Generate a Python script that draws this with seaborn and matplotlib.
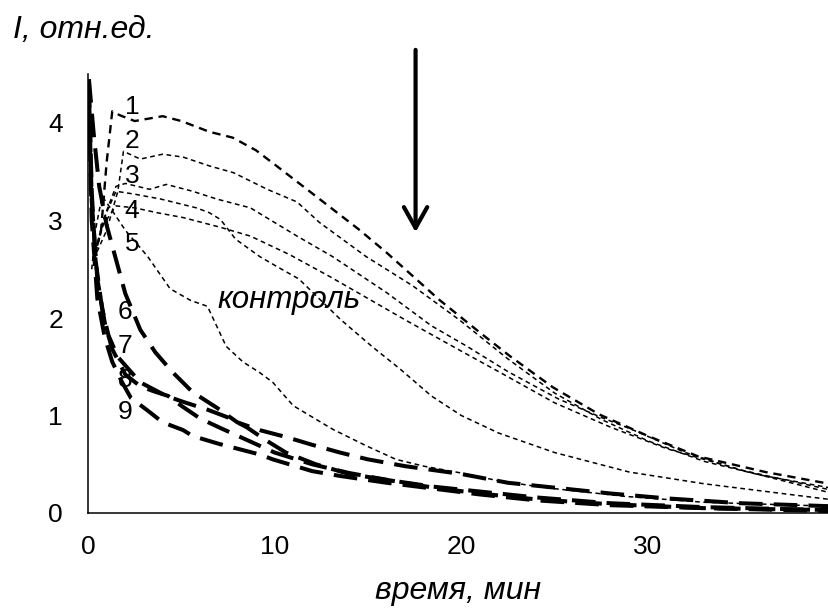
import matplotlib
matplotlib.use("Agg")
import matplotlib.pyplot as plt
import seaborn as sns
import numpy as np

# ---------------- data ----------------
c1_x = [0.3, 0.7, 1.0, 1.3, 1.7, 2.5, 4.0, 5.0, 6.5, 7.75, 9.0, 10.1, 12.0, 14.5, 16.0, 17.4, 18.8, 21.0, 22.6, 24.9, 27.4, 30.0, 32.7, 36.3, 39.7]
c1_y = [2.6, 2.9, 3.6, 4.12, 4.08, 4.02, 4.07, 4.02, 3.91, 3.85, 3.72, 3.56, 3.28, 2.91, 2.67, 2.43, 2.19, 1.85, 1.61, 1.29, 1.01, 0.79, 0.58, 0.42, 0.30]

c2_x = [0.3, 1.0, 1.6, 1.9, 2.8, 4.0, 5.1, 6.5, 7.8, 9.6, 11.2, 12.4, 14.9, 17.4, 19.9, 22.5, 25.0, 27.5, 30.0, 33.0, 36.0, 39.7]
c2_y = [2.6, 2.9, 3.3, 3.71, 3.63, 3.68, 3.65, 3.56, 3.49, 3.32, 3.19, 2.98, 2.63, 2.33, 1.98, 1.58, 1.23, 0.96, 0.74, 0.53, 0.39, 0.26]

c3_x = [0.3, 1.0, 1.5, 2.0, 3.3, 4.2, 5.6, 6.9, 8.7, 11.2, 13.1, 16.0, 18.4, 20.3, 22.5, 25.2, 27.5, 29.1, 32.0, 35.0, 39.7]
c3_y = [2.6, 3.1, 3.35, 3.38, 3.32, 3.37, 3.30, 3.22, 3.13, 2.84, 2.63, 2.26, 1.92, 1.71, 1.45, 1.17, 0.98, 0.86, 0.62, 0.44, 0.24]

c4_x = [0.3, 0.8, 1.5, 2.5, 3.7, 5.1, 6.5, 7.1, 8.7, 10.8, 13.0, 15.0, 17.0, 20.0, 22.0, 25.0, 28.0, 31.0, 35.0, 39.7]
c4_y = [2.6, 2.95, 3.15, 3.13, 3.08, 3.03, 2.96, 2.93, 2.84, 2.65, 2.42, 2.20, 1.98, 1.66, 1.45, 1.13, 0.88, 0.66, 0.44, 0.21]

ctrl_x = [0.3, 0.8, 1.5, 2.5, 3.9, 5.8, 6.5, 7.1, 7.9, 9.2, 10.1, 11.3, 13.5, 15.2, 16.7, 18.4, 20.0, 22.0, 25.0, 29.0, 33.0, 39.7]
ctrl_y = [2.6, 3.0, 3.3, 3.27, 3.22, 3.13, 3.08, 3.01, 2.81, 2.63, 2.53, 2.40, 1.99, 1.71, 1.48, 1.20, 1.00, 0.82, 0.62, 0.42, 0.30, 0.14]

c5_x = [0.2, 0.4, 0.75, 1.3, 2.0, 3.2, 4.4, 5.5, 6.4, 7.4, 8.3, 9.2, 9.9, 11.0, 13.1, 14.9, 16.5, 18.0, 20.0, 22.0, 24.5, 28.8, 33.0, 39.7]
c5_y = [2.5, 2.9, 3.25, 3.1, 2.9, 2.63, 2.30, 2.18, 2.12, 1.71, 1.55, 1.44, 1.34, 1.10, 0.86, 0.69, 0.55, 0.48, 0.41, 0.33, 0.26, 0.17, 0.11, 0.07]

c6_x = [0.05, 0.3, 0.6, 1.0, 1.5, 2.0, 2.8, 3.6, 4.5, 5.6, 6.9, 8.0, 9.2, 10.6, 12.0, 13.5, 15.0, 17.0, 20.0, 22.5, 25.0, 28.0, 31.0, 35.0, 39.7]
c6_y = [4.45, 3.9, 3.35, 2.95, 2.6, 2.25, 1.88, 1.65, 1.45, 1.24, 1.08, 0.93, 0.85, 0.78, 0.70, 0.62, 0.55, 0.48, 0.40, 0.31, 0.26, 0.20, 0.15, 0.10, 0.07]

c7_x = [0.05, 0.2, 0.4, 0.75, 1.1, 1.6, 2.2, 2.8, 3.5, 4.2, 5.1, 6.4, 7.5, 8.5, 9.5, 10.6, 12.2, 14.0, 16.0, 18.5, 21.0, 24.0, 28.0, 33.0, 39.7]
c7_y = [4.4, 3.3, 2.6, 2.1, 1.82, 1.6, 1.47, 1.34, 1.27, 1.20, 1.14, 1.06, 0.98, 0.88, 0.75, 0.62, 0.50, 0.40, 0.34, 0.27, 0.22, 0.16, 0.10, 0.06, 0.03]

c8_x = [0.05, 0.2, 0.5, 0.9, 1.3, 2.0, 2.8, 3.5, 4.3, 5.0, 6.0, 7.0, 8.5, 10.0, 12.0, 14.0, 16.0, 18.5, 21.0, 24.0, 28.0, 33.0, 39.7]
c8_y = [4.3, 3.2, 2.4, 1.95, 1.68, 1.42, 1.30, 1.25, 1.20, 1.10, 0.97, 0.88, 0.75, 0.62, 0.50, 0.41, 0.34, 0.26, 0.20, 0.14, 0.09, 0.05, 0.03]

c9_x = [0.05, 0.2, 0.5, 0.9, 1.3, 1.8, 2.3, 3.2, 4.0, 5.1, 5.6, 7.0, 7.8, 9.2, 9.9, 11.3, 12.0, 13.5, 16.0, 18.5, 21.0, 24.0, 28.0, 33.0, 39.7]
c9_y = [4.2, 3.0, 2.2, 1.8, 1.55, 1.35, 1.18, 1.05, 0.93, 0.85, 0.79, 0.71, 0.67, 0.60, 0.55, 0.47, 0.43, 0.38, 0.31, 0.25, 0.19, 0.13, 0.08, 0.05, 0.02]

curve_labels = ["1", "2", "3", "4", "5", "6", "7", "8", "9"]
label_x = [2.35, 2.35, 2.35, 2.35, 2.35, 1.98, 1.98, 1.98, 1.98]
label_y = [4.16, 3.82, 3.46, 3.10, 2.76, 2.06, 1.71, 1.36, 1.04]

x_ticks = [0, 10, 20, 30]
y_ticks = [0, 1, 2, 3, 4]
x_label = "время, мин"
y_label = "I, отн.ед."
ctrl_label = "контроль"
arrow_x = 17.55
arrow_y_from = 4.75
arrow_y_to = 2.88

# ---------------- style ----------------
sns.set_theme(style="white")
plt.rcParams["font.family"] = ["Liberation Sans", "DejaVu Sans"]
plt.rcParams["lines.scale_dashes"] = False

fig = plt.figure(figsize=(8.29, 6.08), dpi=100)
ax = fig.add_axes([88 / 829, 95 / 608, 741 / 829, 438.75 / 608])

thin = dict(color="black", lw=1.1, linestyle=(0, (3.4, 2.6)))
mid = dict(color="black", lw=1.7, linestyle=(0, (6.0, 4.2)))
thick = dict(color="black", lw=2.9, linestyle=(0, (17, 8)))

series = [
    (c1_x, c1_y, mid),
    (c2_x, c2_y, thin),
    (c3_x, c3_y, thin),
    (c4_x, c4_y, thin),
    (ctrl_x, ctrl_y, thin),
    (c5_x, c5_y, thin),
    (c6_x, c6_y, thick),
    (c7_x, c7_y, thick),
    (c8_x, c8_y, thick),
    (c9_x, c9_y, thick),
]
for xs, ys, st in series:
    sns.lineplot(x=xs, y=ys, ax=ax, estimator=None, sort=False, **st)

ax.set_xlim(0, 39.7)
ax.set_ylim(0, 4.5)
ax.set_xticks(x_ticks)
ax.set_yticks(y_ticks)
ax.tick_params(axis="both", which="major", direction="out", length=6, width=1.0,
               color="black", labelsize=19, colors="black")
ax.tick_params(axis="y", pad=12)
ax.tick_params(axis="x", pad=10)
for s in ["top", "right"]:
    ax.spines[s].set_visible(False)
for s in ["left", "bottom"]:
    ax.spines[s].set_color("black")
    ax.spines[s].set_linewidth(1.1)
ax.grid(False)
ax.set_facecolor("white")

ax.set_xlabel(x_label, fontsize=23, style="italic", labelpad=12, color="black")
fig.text(13 / 829, 1 - 30 / 608, y_label, fontsize=23, style="italic",
         ha="left", va="center", color="black")

for t, lx, ly in zip(curve_labels, label_x, label_y):
    ax.text(lx, ly, t, fontsize=19, ha="center", va="center", color="black")

ax.text(6.95, 2.1, ctrl_label, fontsize=22.5, style="italic", ha="left",
        va="baseline", color="black")

ax.annotate("", xy=(arrow_x, arrow_y_to), xytext=(arrow_x, arrow_y_from),
            xycoords="data", textcoords="data", annotation_clip=False,
            arrowprops=dict(arrowstyle="->,head_length=0.75,head_width=0.42",
                            lw=3, color="black", mutation_scale=20,
                            shrinkA=0, shrinkB=0))

fig.savefig("out.png", dpi=100, facecolor="white")
